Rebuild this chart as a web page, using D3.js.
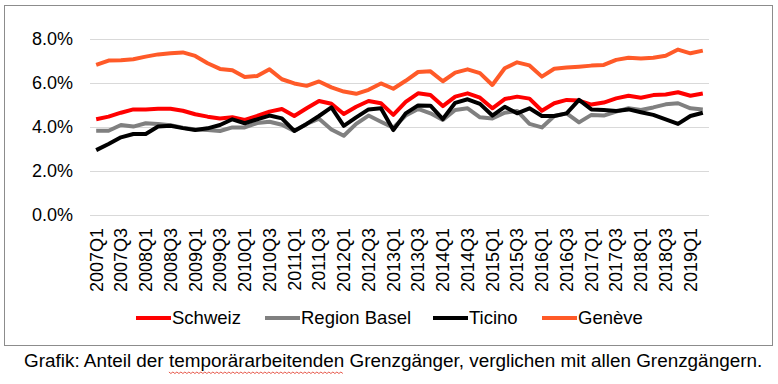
<!DOCTYPE html>
<html>
<head>
<meta charset="utf-8">
<script src="https://cdn.jsdelivr.net/npm/d3@7"></script>
<style>
  body { margin: 0; background: #fff; }
  text { font-family: "Liberation Sans", Arial, sans-serif; fill: #000; }
</style>
</head>
<body>
<div id="chart"></div>
<script>
// quarters 2007Q1 .. 2019Q2
var quarters = [];
for (var yr = 2007; yr <= 2019; yr++) {
    for (var q = 1; q <= 4; q++) {
        if (yr == 2019 && q > 2) break;
        quarters.push(yr + "Q" + q);
    }
}

var schweiz = [4.35, 4.47, 4.65, 4.8, 4.8, 4.83, 4.83, 4.74, 4.58, 4.47,
    4.39, 4.44, 4.32, 4.5, 4.7, 4.82, 4.5, 4.85, 5.18, 5.06,
    4.59, 4.92, 5.18, 5.08, 4.55, 5.14, 5.53, 5.45, 4.95, 5.38,
    5.53, 5.33, 4.85, 5.27, 5.38, 5.29, 4.74, 5.08, 5.23, 5.2,
    5.02, 5.11, 5.3, 5.42, 5.33, 5.45, 5.48, 5.58, 5.42, 5.52];

var regionBasel = [3.83, 3.83, 4.09, 4.02, 4.17, 4.14, 4.08, 3.97, 3.89, 3.86,
    3.82, 3.98, 3.98, 4.18, 4.24, 4.1, 3.82, 4.14, 4.38, 3.89,
    3.6, 4.14, 4.52, 4.24, 3.97, 4.52, 4.82, 4.62, 4.32, 4.77,
    4.85, 4.44, 4.39, 4.65, 4.73, 4.14, 3.98, 4.5, 4.62, 4.21,
    4.55, 4.52, 4.7, 4.85, 4.77, 4.89, 5.03, 5.08, 4.85, 4.8];

var ticino = [2.95, 3.23, 3.53, 3.68, 3.68, 4.02, 4.06, 3.95, 3.86, 3.94,
    4.09, 4.35, 4.17, 4.35, 4.52, 4.39, 3.82, 4.14, 4.5, 4.89,
    4.05, 4.44, 4.8, 4.85, 3.86, 4.62, 4.98, 4.97, 4.36, 5.1,
    5.26, 5.05, 4.52, 4.92, 4.62, 4.85, 4.5, 4.5, 4.62, 5.23,
    4.8, 4.77, 4.73, 4.8, 4.67, 4.55, 4.35, 4.14, 4.5, 4.65];

var geneve = [6.82, 7.02, 7.03, 7.08, 7.2, 7.3, 7.35, 7.39, 7.23, 6.9,
    6.64, 6.58, 6.27, 6.32, 6.62, 6.17, 5.98, 5.87, 6.07, 5.8,
    5.61, 5.51, 5.69, 5.98, 5.74, 6.1, 6.5, 6.53, 6.08, 6.47,
    6.62, 6.45, 5.91, 6.67, 6.94, 6.8, 6.29, 6.65, 6.7, 6.74,
    6.79, 6.82, 7.05, 7.15, 7.11, 7.15, 7.24, 7.52, 7.35, 7.47];

var seriesNames = ["Schweiz", "Region Basel", "Ticino", "Genève"];
var seriesData = [schweiz, regionBasel, ticino, geneve];
var seriesColors = ["#ff0000", "#808080", "#000000", "#ff5a28"];
var yTicks = [0, 2, 4, 6, 8];

var W = 778, H = 384;
var margin = { top: 39, left: 90, right: 69, bottom: 169 };
var width = W - margin.left - margin.right,
    height = H - margin.top - margin.bottom;

var svg = d3.select("#chart")
    .append("svg")
    .attr("width", W)
    .attr("height", H);

// outer chart frame
svg.append("rect")
    .attr("x", 4.5).attr("y", 5.5)
    .attr("width", 768).attr("height", 340)
    .attr("fill", "none")
    .attr("stroke", "#8c8c8c");

var g = svg.append("g")
    .attr("transform", "translate(" + margin.left + "," + margin.top + ")");

var x = d3.scaleBand()
    .domain(quarters)
    .range([0, width]);

var y = d3.scaleLinear()
    .domain([0, 8])
    .range([height, 0]);

// gridlines
g.selectAll(".grid")
    .data(yTicks)
    .enter().append("line")
    .attr("x1", 0).attr("x2", width)
    .attr("y1", function (d) { return Math.round(y(d)) + 0.5; })
    .attr("y2", function (d) { return Math.round(y(d)) + 0.5; })
    .attr("stroke", "#d9d9d9")
    .attr("stroke-width", 1);

// y labels
g.selectAll(".ylab")
    .data(yTicks)
    .enter().append("text")
    .attr("x", -17)
    .attr("y", function (d) { return y(d); })
    .attr("dy", "0.35em")
    .attr("text-anchor", "end")
    .style("font-size", "18px")
    .text(function (d) { return d.toFixed(1) + "%"; });

// x labels, every second quarter
g.selectAll(".xlab")
    .data(quarters.filter(function (d, i) { return i % 2 == 0; }))
    .enter().append("text")
    .attr("transform", function (d) {
        return "translate(" + (x(d) + x.bandwidth() / 2) + "," + (height + 13) + ")rotate(-90)";
    })
    .attr("dy", "0.35em")
    .attr("text-anchor", "end")
    .style("font-size", "18px")
    .text(function (d) { return d; });

// lines
var line = d3.line()
    .x(function (d, i) { return x(quarters[i]) + x.bandwidth() / 2; })
    .y(function (d) { return y(d); });

seriesData.forEach(function (s, k) {
    g.append("path")
        .datum(s)
        .attr("d", line)
        .attr("fill", "none")
        .attr("stroke", seriesColors[k])
        .attr("stroke-width", 4)
        .attr("stroke-linejoin", "round");
});

// legend
var legendX = [136, 265, 433, 542];
var legend = svg.selectAll(".legend")
    .data(seriesNames)
    .enter().append("g")
    .attr("transform", function (d, i) { return "translate(" + legendX[i] + ",318)"; });
legend.append("line")
    .attr("x1", 0).attr("x2", 35)
    .attr("stroke", function (d, i) { return seriesColors[i]; })
    .attr("stroke-width", 4);
legend.append("text")
    .attr("x", 36)
    .attr("dy", "0.35em")
    .style("font-size", "18.5px")
    .text(function (d) { return d; });

// caption
var caption = svg.append("text")
    .attr("x", 24).attr("y", 367)
    .style("font-size", "18.9px")
    .text("Grafik: Anteil der temporärarbeitenden Grenzgänger, verglichen mit allen Grenzgängern.");

// red spell-check squiggle under "temporärarbeitenden"
var word = "temporärarbeitenden";
var full = caption.text();
var start = full.indexOf(word);
var sx = caption.node().getStartPositionOfChar(start).x;
var sw = caption.node().getSubStringLength(start, word.length);
var pts = [];
for (var px = 0; px <= sw; px += 2) {
    pts.push([sx + px, 372 + ((px / 2) % 2 == 0 ? 0 : 1.5)]);
}
svg.append("path")
    .attr("d", d3.line()(pts))
    .attr("fill", "none")
    .attr("stroke", "#e0301e")
    .attr("stroke-width", 0.8);
</script>
</body>
</html>
